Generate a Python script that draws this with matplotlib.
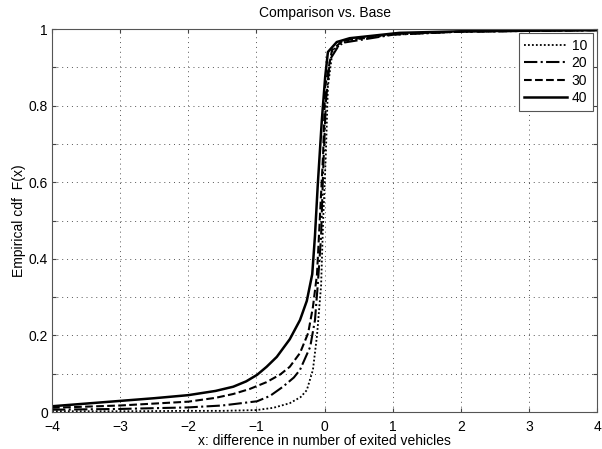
import matplotlib.pyplot as plt

plt.rcParams['font.family'] = ['Liberation Sans', 'DejaVu Sans']

# empirical cdf curves
x10 = [-4, -3, -2, -1.5, -1.0, -0.75, -0.51, -0.35, -0.26, -0.17, -0.11, -0.05, -0.02, 0.02, 0.05, 0.12, 0.33, 1.0, 2.0, 4.0]
y10 = [0.002, 0.002, 0.003, 0.003, 0.005, 0.011, 0.023, 0.039, 0.057, 0.11, 0.20, 0.33, 0.50, 0.675, 0.85, 0.945, 0.97, 0.985, 0.993, 0.997]

x20 = [-4, -3, -2, -1.5, -0.99, -0.8, -0.61, -0.45, -0.36, -0.21, -0.14, -0.10, -0.05, -0.02, 0.02, 0.08, 0.23, 1.0, 2.0, 4.0]
y20 = [0.006, 0.008, 0.012, 0.017, 0.028, 0.042, 0.066, 0.09, 0.11, 0.17, 0.24, 0.33, 0.46, 0.63, 0.81, 0.92, 0.963, 0.985, 0.993, 0.997]

x30 = [-4, -3, -2, -1.6, -1.34, -1.1, -0.85, -0.65, -0.51, -0.36, -0.24, -0.17, -0.11, -0.07, -0.02, 0.01, 0.11, 0.27, 1.0, 2.0, 4.0]
y30 = [0.011, 0.017, 0.027, 0.037, 0.047, 0.060, 0.078, 0.098, 0.118, 0.154, 0.206, 0.274, 0.36, 0.50, 0.675, 0.85, 0.945, 0.97, 0.987, 0.993, 0.997]

x40 = [-4, -3.5, -3, -2.5, -2, -1.6, -1.34, -1.15, -0.99, -0.85, -0.70, -0.51, -0.36, -0.26, -0.18, -0.14, -0.10, -0.04, 0.01, 0.05, 0.18, 0.37, 1.1, 2.0, 4.0]
y40 = [0.015, 0.022, 0.029, 0.036, 0.044, 0.055, 0.066, 0.080, 0.097, 0.118, 0.144, 0.19, 0.24, 0.29, 0.36, 0.46, 0.59, 0.76, 0.875, 0.94, 0.966, 0.976, 0.99, 0.994, 0.997]

labels = ['10', '20', '30', '40']

fig = plt.figure(figsize=(6.02, 4.49), dpi=100)
ax = fig.add_axes([0.0864, 0.0824, 0.9053, 0.8530])

ax.plot(x10, y10, color='black', linestyle=(0, (1, 1.2)), linewidth=1.3, label=labels[0])
ax.plot(x20, y20, color='black', linestyle='-.', linewidth=1.5, label=labels[1])
ax.plot(x30, y30, color='black', linestyle='--', linewidth=1.5, label=labels[2])
ax.plot(x40, y40, color='black', linestyle='-', linewidth=1.8, label=labels[3])

ax.set_xlim(-4, 4)
ax.set_ylim(0, 1)
ax.set_xticks(range(-4, 5))
ax.set_xticklabels(['\u22124', '\u22123', '\u22122', '\u22121', '0', '1', '2', '3', '4'])
yt = [i / 10 for i in range(11)]
ax.set_yticks(yt)
ax.set_yticklabels(['0', '', '0.2', '', '0.4', '', '0.6', '', '0.8', '', '1'])
ax.tick_params(direction='in', top=True, right=True, labelsize=10, length=3,
               colors='#444444', labelcolor='black')
ax.tick_params(axis='x', pad=6)
ax.tick_params(axis='y', pad=3)
ax.grid(True, linestyle=(0, (1, 4)), color='#555555', linewidth=0.7)
for s in ax.spines.values():
    s.set_color('#555555')

ax.set_title('Comparison vs. Base', fontsize=10, pad=9)
ax.set_xlabel('x: difference in number of exited vehicles', fontsize=10, labelpad=0)
ax.set_ylabel('Empirical cdf  F(x)', fontsize=10, labelpad=2)

leg = ax.legend(loc='upper right', fontsize=10, fancybox=False, framealpha=1, edgecolor='#555555',
                handlelength=3.1, borderaxespad=0.3, labelspacing=0.25, handletextpad=0.3,
                borderpad=0.4)
leg.get_frame().set_linewidth(0.8)

plt.savefig('out.png', dpi=100)
